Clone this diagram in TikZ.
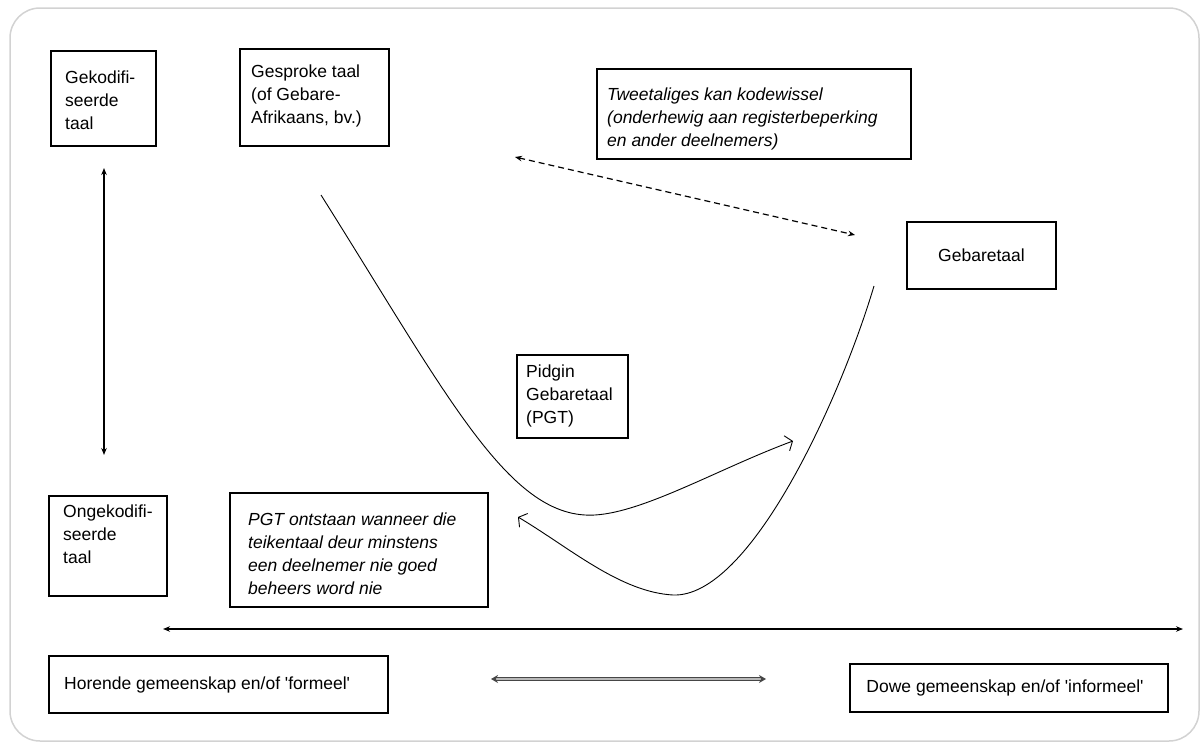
\documentclass[tikz,border=0pt]{standalone}
\usepackage{fontspec}
\setmainfont{Liberation Sans}
\usetikzlibrary{arrows.meta}
\begin{document}
\begin{tikzpicture}[x=1pt,y=-1pt,
  box/.style={draw, line width=1.4pt, inner sep=0pt},
  txt/.style={anchor=north west, inner sep=0pt, align=left, font=\fontsize{17.5}{23}\selectfont},
  ctxt/.style={inner sep=0pt, font=\fontsize{17.5}{23}\selectfont},
  conn/.style={line width=1.3pt},
  curve/.style={line width=0.9pt, -{Straight Barb[length=6pt,width=16pt]}},
  stl/.tip={Stealth[length=7pt,width=5.5pt]}]
\useasboundingbox (0,0) rectangle (1203,744);
\draw[gray!35, line width=1.5pt, rounded corners=30pt] (10,8) rectangle (1199,741);

% boxes
\node[box, minimum width=105, minimum height=95] (gek) at (103.5,98.5) {};
\node[box, minimum width=149, minimum height=97] (ges) at (314.5,97.5) {};
\node[box, minimum width=314, minimum height=90] (twee) at (754,114) {};
\node[box, minimum width=149, minimum height=67] (geb) at (981.5,255.5) {};
\node[box, minimum width=111, minimum height=83] (pid) at (572.5,396.5) {};
\node[box, minimum width=118, minimum height=100] (onge) at (108,546) {};
\node[box, minimum width=258, minimum height=114] (pgt) at (359,550) {};
\node[box, minimum width=339, minimum height=57] (hor) at (218.5,684.5) {};
\node[box, minimum width=318, minimum height=48] (dowe) at (1009,688) {};

% texts
\node[txt] (gekt) at (65,70.5) {Gekodifi-\\seerde\\taal};
\node[txt] (gest) at (251,64.5) {Gesproke taal\\(of Gebare-\\Afrikaans, bv.)};
\node[txt] (tweet) at (607,87.5) {\itshape Tweetaliges kan kodewissel\\\itshape (onderhewig aan registerbeperking\\\itshape en ander deelnemers)};
\node[ctxt] (gebt) at (geb.center) {Gebaretaal};
\node[txt] (pidt) at (526,364.5) {Pidgin\\Gebaretaal\\(PGT)};
\node[txt] (onget) at (63,504.5) {Ongekodifi-\\seerde\\taal};
\node[txt] (pgtt) at (248,512.5) {\itshape PGT ontstaan wanneer die\\\itshape teikentaal deur minstens\\\itshape een deelnemer nie goed\\\itshape beheers word nie};
\node[ctxt, anchor=west] (hort) at (64,685) {Horende gemeenskap en/of \textquotesingle formeel\textquotesingle};
\node[ctxt] (dowet) at (1005,688) {Dowe gemeenskap en/of \textquotesingle informeel\textquotesingle};

% connector end points
\coordinate (v1) at (104,168);
\coordinate (v2) at (104,455);
\coordinate (h1) at (163,629);
\coordinate (h2) at (1183,629);
\coordinate (s1) at (491,679);
\coordinate (s2) at (766,679);
\coordinate (d1) at (515,157);
\coordinate (d2) at (855,235);
\coordinate (c1s) at (321,195);
\coordinate (c1m) at (595,515);
\coordinate (c1e) at (793,441);
\coordinate (c2s) at (874,286);
\coordinate (c2m) at (673,595);
\coordinate (c2e) at (518,517);

% connectors
\draw[conn, stl-stl] (v1) -- (v2);
\draw[line width=1.5pt, stl-stl] (h1) -- (h2);
\draw[draw=gray!55!black, double=gray!55, double distance=1.6pt, line width=1pt,
      {Stealth[length=7pt,width=8pt]}-{Stealth[length=7pt,width=8pt]}] (s1) -- (s2);
\draw[line width=1.2pt, dash pattern=on 6pt off 4pt, stl-stl] (d1) -- (d2);
\draw[curve] (c1s) .. controls (450,400) and (510,520) .. (c1m)
  .. controls (645,512) and (720,468) .. (c1e);
\draw[curve] (c2s) .. controls (840,400) and (750,598) .. (c2m)
  .. controls (620,592) and (570,548) .. (c2e);
\end{tikzpicture}
\end{document}
